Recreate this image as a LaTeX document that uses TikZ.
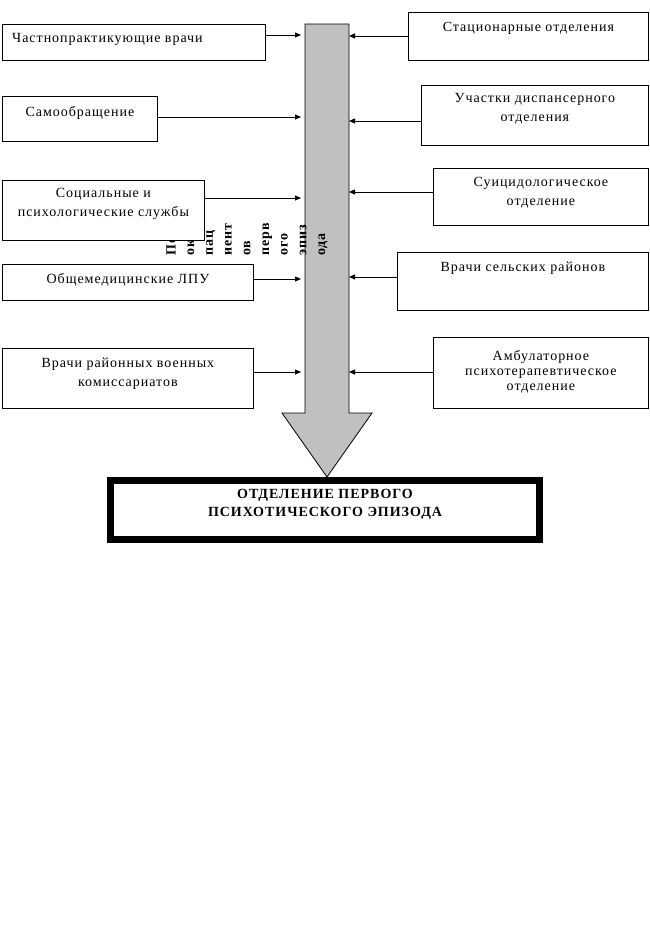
\documentclass[tikz,border=0pt]{standalone}
\usepackage{fontspec}
\setmainfont{Liberation Serif}[LetterSpace=7]
\usetikzlibrary{arrows.meta}

\definecolor{flowgray}{RGB}{192,192,192}

\tikzset{
    srcbox/.style={draw, line width=0.8pt, fill=white, anchor=north west},
    lbl/.style={anchor=north, align=center, font=\fontsize{14}{19}\selectfont},
    feed/.style={line width=0.8pt, -{Triangle[length=6pt, width=5pt]}},
    flowtxt/.style={rotate=90, anchor=base west, font=\fontsize{14}{16}\selectfont\bfseries}
}

\begin{document}
\begin{tikzpicture}[x=1pt, y=-1pt, every node/.style={inner sep=0pt}]
    \useasboundingbox (0,0) rectangle (650,937);

    % Big flow arrow
    \filldraw[fill=flowgray, draw=black, line width=0.8pt]
        (305,24) -- (349,24) -- (349,413) -- (372,413) -- (327,477)
        -- (282,413) -- (305,413) -- cycle;
    \foreach \w [count=\i from 0] in {Пот,ок,пац,иент,ов,перв,ого,эпиз,ода}
        \node[flowtxt] (flow\i) at (175.5+18.7*\i, 256) {\w};

    % Connector ends on the arrow
    \foreach \n/\y in {A/35,B/117,C/198,D/279,E/372}
        \coordinate (in\n) at (301,\y);
    \foreach \n/\y in {A/36,B/121,C/192,D/277,E/372}
        \coordinate (out\n) at (349,\y);

    % Left sources
    \node[srcbox, minimum width=263pt, minimum height=36pt] (chast) at (2,24) {};
    \node[lbl, anchor=north west] (chastT) at ([xshift=10pt, yshift=-9pt]chast.north west) {Частнопрактикующие врачи};
    \node[srcbox, minimum width=155pt, minimum height=45pt] (samo) at (2,96) {};
    \node[lbl] (samoT) at ([yshift=-10pt]samo.north) {Самообращение};
    \node[srcbox, minimum width=202pt, minimum height=60pt] (soc) at (2,180) {};
    \node[lbl] (socT) at ([yshift=-8pt]soc.north) {Социальные и\\психологические службы};
    \node[srcbox, minimum width=251pt, minimum height=36pt] (obsh) at (2,264) {};
    \node[lbl] (obshT) at ([yshift=-9pt]obsh.north) {Общемедицинские ЛПУ};
    \node[srcbox, minimum width=251pt, minimum height=60pt] (voen) at (2,348) {};
    \node[lbl] (voenT) at ([yshift=-10pt]voen.north) {Врачи районных военных\\комиссариатов};

    % Right sources
    \node[srcbox, minimum width=240pt, minimum height=48pt] (stac) at (408,12) {};
    \node[lbl] (stacT) at ([yshift=-10pt]stac.north) {Стационарные отделения};
    \node[srcbox, minimum width=227pt, minimum height=60pt] (disp) at (421,85) {};
    \node[lbl] (dispT) at ([yshift=-8pt]disp.north) {Участки диспансерного\\отделения};
    \node[srcbox, minimum width=215pt, minimum height=57pt] (suic) at (433,168) {};
    \node[lbl] (suicT) at ([yshift=-9pt]suic.north) {Суицидологическое\\отделение};
    \node[srcbox, minimum width=251pt, minimum height=58pt] (selsk) at (397,252) {};
    \node[lbl] (selskT) at ([yshift=-10pt]selsk.north) {Врачи сельских районов};
    \node[srcbox, minimum width=215pt, minimum height=71pt] (ambul) at (433,337) {};
    \node[lbl, font=\fontsize{14}{15}\selectfont] (ambulT) at ([yshift=-13pt]ambul.north) {Амбулаторное\\психотерапевтическое\\отделение};

    % Target department
    \node[draw, line width=7pt, fill=white, minimum width=429pt, minimum height=59pt] (otd) at (325,510) {};
    \node[lbl, font=\fontsize{14}{18}\selectfont\bfseries] (otdT) at ([yshift=-12pt]otd.north) {ОТДЕЛЕНИЕ ПЕРВОГО\\ПСИХОТИЧЕСКОГО ЭПИЗОДА};

    % Connectors
    \draw[feed] (chast.east |- inA) -- (inA);
    \draw[feed] (samo.east |- inB) -- (inB);
    \draw[feed] (soc.east |- inC) -- (inC);
    \draw[feed] (obsh.east |- inD) -- (inD);
    \draw[feed] (voen.east |- inE) -- (inE);
    \draw[feed] (stac.west |- outA) -- (outA);
    \draw[feed] (disp.west |- outB) -- (outB);
    \draw[feed] (suic.west |- outC) -- (outC);
    \draw[feed] (selsk.west |- outD) -- (outD);
    \draw[feed] (ambul.west |- outE) -- (outE);
\end{tikzpicture}
\end{document}
